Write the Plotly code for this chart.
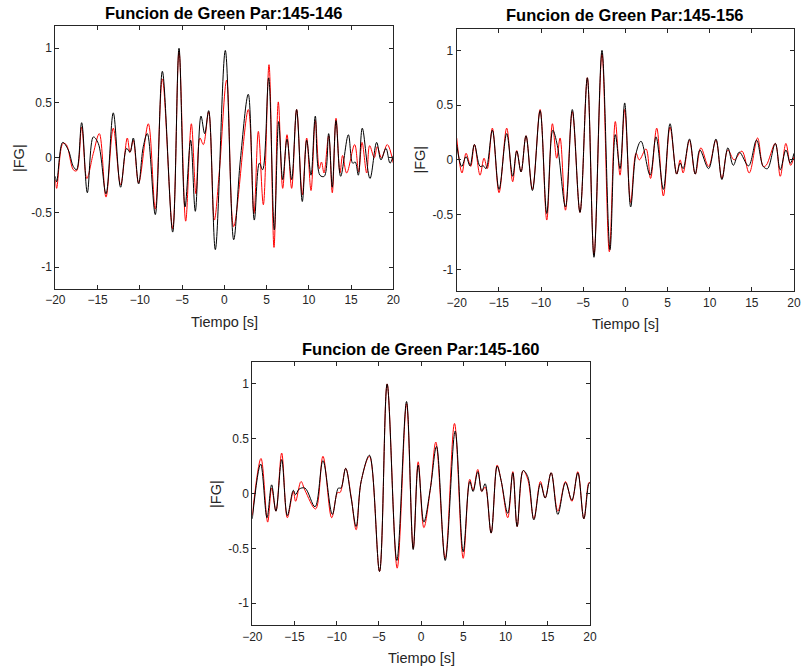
import plotly.graph_objects as go

# ---------------- data (extrema) ----------------
p1_black_t = [-20, -19.84, -19.13, -18.46, -17.87, -17.48, -16.88, -16.21, -15.5, -14.91, -14.0, -13.14, -12.27,
              -11.56, -11.16, -10.77, -10.14, -9.59, -9.11, -8.17, -7.33, -6.11, -5.36, -4.65, -3.98, -3.43,
              -2.76, -2.32, -1.85, -1.06, 0.12, 1.11, 1.9, 2.84, 3.55, 4.15, 4.54, 5.25, 5.92, 6.43, 6.91, 7.42,
              7.97, 8.56, 9.23, 9.75, 10.26, 10.77, 11.32, 11.83, 12.35, 12.78, 13.22, 13.77, 14.68, 15.19,
              15.5, 15.86, 16.33, 17.24, 18.03, 18.54, 19.13, 19.61, 20]
p1_black_v = [-0.17, -0.22, 0.14, 0.07, -0.08, -0.11, 0.32, -0.32, 0.19, 0.13, -0.33, 0.41, -0.27,
              0.085, 0.05, 0.18, -0.24, 0.10, 0.22, -0.52, 0.79, -0.68, 1.0, -0.45, 0.16, -0.49,
              0.38, 0.22, 0.43, -0.84, 0.98, -0.75, -0.02, 0.58, -0.57, -0.05, -0.11, 0.73, -0.66, 0.33, -0.2, 0.17,
              -0.2, 0.44, -0.4, 0.16, -0.16, 0.38, -0.16, -0.17, 0.22, -0.27, 0.34, -0.17, 0.21, -0.05,
              -0.04, -0.16, 0.27, -0.19, 0.14, -0.02, 0.085, -0.05, 0.02]
p1_red_t = [-20, -19.84, -19.1, -18.7, -17.87, -17.48, -16.88, -16.27, -15.5, -14.79, -14.0, -13.14, -12.27,
            -11.48, -11.16, -10.77, -10.14, -8.99, -8.17, -7.33, -6.11, -5.36, -4.57, -3.9, -3.35, -2.88,
            -2.48, -1.85, -1.18, -0.59, 0.28, 1.11, 2.84, 3.51, 4.03, 4.62, 5.29, 5.88, 6.39, 6.91, 7.42,
            7.97, 8.56, 9.23, 9.75, 10.26, 10.77, 11.24, 11.5, 11.8, 12.35, 12.78, 13.22, 13.69, 14.0, 14.48,
            15.43, 15.9, 16.3, 16.85, 17.2, 17.75, 18.1, 18.6, 19.29, 20]
p1_red_v = [-0.2, -0.28, 0.13, 0.12, -0.11, -0.12, 0.28, -0.19, 0.04, 0.22, -0.36, 0.27, -0.25,
            0.18, 0.05, 0.16, -0.23, 0.31, -0.47, 0.72, -0.65, 0.97, -0.58, 0.31, -0.33, 0.18,
            0.12, 0.42, -0.57, -0.13, 0.71, -0.63, 0.44, -0.51, 0.24, -0.43, 0.85, -0.82, 0.51, -0.28, 0.21,
            -0.28, 0.44, -0.34, 0.18, -0.30, 0.34, -0.1, -0.04, -0.14, 0.2, -0.32, 0.36, -0.14, 0.02, -0.14,
            0.12, -0.13, 0.14, -0.14, 0.11, 0.0, 0.1, 0.0, 0.12, -0.05]

p2_black_t = [-20, -19.41, -18.89, -18.42, -17.9, -17.23, -16.84, -16.52, -15.77, -14.98, -14.07, -13.36, -12.88,
              -12.37, -11.78, -11.02, -10.11, -9.32, -8.61, -8.06, -7.1, -6.29, -5.38, -4.51, -3.72, -2.77,
              -1.82, -1.19, -0.63, -0.08, 0.63, 1.27, 1.86, 2.93, 3.64, 4.51, 5.3, 6.09, 6.5, 6.85, 7.6,
              8.29, 8.84, 9.87, 10.74, 11.45, 12.16, 12.8, 13.51, 14.61, 15.56, 16.35, 16.86, 17.78, 18.37,
              19.04, 19.56, 20]
p2_black_v = [0.14, -0.06, 0.03, -0.055, 0.14, -0.06, -0.055, -0.08, 0.27, -0.27, 0.24, -0.15, 0.08,
              -0.11, 0.22, -0.28, 0.45, -0.49, 0.27, 0.13, -0.43, 0.46, -0.48, 0.75, -0.89, 1.0,
              -0.82, 0.23, -0.08, 0.52, -0.43, 0.06, 0.17, -0.14, 0.21, -0.27, 0.33, -0.13, -0.03, -0.08, 0.19,
              -0.13, 0.09, -0.08, 0.19, -0.18, 0.11, -0.05, 0.07, -0.055, 0.18, -0.06, -0.08, 0.15, -0.09,
              0.09, -0.03, 0.06]
p2_red_t = [-20, -19.37, -18.89, -18.34, -17.9, -17.23, -16.76, -16.37, -15.77, -14.98, -14.07, -13.36, -12.88,
            -12.37, -11.78, -11.02, -10.11, -9.32, -8.65, -8.14, -7.74, -7.1, -6.29, -5.38, -4.51, -3.72,
            -2.77, -1.9, -1.19, -0.63, -0.08, 0.63, 1.27, 1.66, 2.45, 2.99, 3.72, 4.51, 5.3, 6.09, 6.5,
            6.85, 7.6, 8.29, 8.96, 9.87, 10.74, 11.45, 12.16, 12.9, 13.82, 14.69, 15.68, 16.35, 16.7,
            17.78, 18.37, 19.04, 19.6, 20]
p2_red_v = [0.2, -0.12, 0.06, -0.06, 0.14, -0.14, 0.015, -0.08, 0.29, -0.3, 0.29, -0.2, 0.085,
            -0.11, 0.22, -0.27, 0.46, -0.55, 0.33, 0.015, 0.2, -0.46, 0.44, -0.48, 0.75, -0.87,
            0.97, -0.84, 0.35, -0.14, 0.46, -0.39, 0.06, 0.0, 0.1, -0.17, 0.29, -0.33, 0.3, -0.13, 0.0,
            -0.12, 0.18, -0.13, 0.11, -0.06, 0.18, -0.17, 0.09, 0.0, 0.08, -0.12, 0.2, -0.06, -0.05,
            0.15, -0.15, 0.15, -0.05, 0.03]

p3_black_t = [-20, -19.01, -18.26, -17.71, -17.2, -16.52, -15.85, -15.14, -14.87, -14.47, -13.76, -12.57,
              -11.63, -10.52, -9.81, -9.5, -8.94, -8.29, -7.7, -7.11, -6.12, -4.93, -4.03, -2.88, -1.73,
              -0.94, -0.35, 0.32, 1.1, 1.82, 2.85, 4.03, 4.98, 5.76, 6.15, 6.71, 7.18, 7.58, 8.29, 9.0,
              9.47, 10.26, 10.86, 11.37, 12.08, 12.63, 13.35, 14.13, 14.69, 15.4, 16.19, 17.1, 17.85,
              18.56, 19.27, 19.86, 20]
p3_black_v = [-0.23, 0.27, -0.22, 0.08, -0.16, 0.31, -0.2, 0.03, -0.01, 0.04, 0.05, -0.12,
              0.3, -0.19, 0.05, 0.05, 0.23, -0.04, -0.3, 0.11, 0.35, -0.71, 1.0, -0.61, 0.84,
              -0.51, 0.26, -0.26, 0.05, 0.43, -0.61, 0.57, -0.53, 0.11, 0.02, 0.2, 0.02, 0.09, -0.36, 0.25,
              0.12, -0.18, 0.19, -0.3, 0.21, 0.155, -0.24, 0.09, -0.04, 0.19, -0.19, 0.1, -0.06,
              0.19, -0.23, 0.09, 0.1]
p3_red_t = [-20, -18.97, -18.18, -17.71, -17.2, -16.52, -15.85, -15.14, -14.87, -14.23, -13.76, -12.5,
            -11.63, -10.6, -9.89, -9.6, -8.94, -8.29, -7.7, -7.11, -6.12, -4.93, -4.03, -2.84, -1.73,
            -0.94, -0.35, 0.32, 1.1, 1.74, 2.85, 3.95, 4.98, 5.76, 6.15, 6.71, 7.18, 7.58, 8.29, 9.0,
            9.47, 10.26, 10.86, 11.37, 12.08, 12.63, 13.35, 14.13, 14.69, 15.4, 16.19, 17.1, 17.85,
            18.56, 19.27, 19.86, 20]
p3_red_v = [-0.2, 0.32, -0.26, 0.05, -0.16, 0.37, -0.22, 0.02, -0.07, 0.11, 0.03, -0.14,
            0.34, -0.22, 0.01, 0.01, 0.23, -0.03, -0.33, 0.11, 0.34, -0.71, 1.0, -0.68, 0.82,
            -0.5, 0.29, -0.31, 0.05, 0.47, -0.59, 0.64, -0.59, 0.13, 0.03, 0.22, 0.02, 0.06, -0.36, 0.26,
            0.12, -0.22, 0.2, -0.3, 0.21, 0.13, -0.23, 0.11, -0.04, 0.19, -0.16, 0.11, -0.07,
            0.2, -0.23, 0.1, 0.1]

titles = ["Funcion de Green Par:145-146", "Funcion de Green Par:145-156", "Funcion de Green Par:145-160"]
x_ticks = [-20, -15, -10, -5, 0, 5, 10, 15, 20]
y_ticks = [-1, -0.5, 0, 0.5, 1]
y_tick_text = ["-1", "-0.5", "0", "0.5", "1"]
x_label = "Tiempo [s]"
y_label = "|FG|"

# ---------------- layout geometry ----------------
W, H = 801, 668
panels = [  # left, right, top, bottom in pixels
    (55.3, 393.3, 26.4, 289.0),
    (456.7, 794.0, 28.5, 291.2),
    (252.3, 590.0, 362.0, 625.2),
]

fig = go.Figure()
series = [(p1_red_t, p1_red_v, p1_black_t, p1_black_v),
          (p2_red_t, p2_red_v, p2_black_t, p2_black_v),
          (p3_red_t, p3_red_v, p3_black_t, p3_black_v)]

axcol = "#262626"
font_family = "Liberation Sans, Arial, sans-serif"
layout = {}
annotations = []
for i, ((l, r, t, b), (rt, rv, bt, bv)) in enumerate(zip(panels, series)):
    n = "" if i == 0 else str(i + 1)
    xa, ya = "x" + n, "y" + n
    fig.add_trace(go.Scatter(x=rt, y=rv, mode="lines", line=dict(color="#ff0000", width=1, shape="spline", smoothing=1.0),
                             xaxis=xa, yaxis=ya, showlegend=False, hoverinfo="skip"))
    fig.add_trace(go.Scatter(x=bt, y=bv, mode="lines", line=dict(color="#000000", width=1, shape="spline", smoothing=1.0),
                             xaxis=xa, yaxis=ya, showlegend=False, hoverinfo="skip"))
    common = dict(showline=True, linecolor=axcol, linewidth=1, mirror="ticks", ticks="inside", ticklen=4,
                  tickcolor=axcol, tickwidth=1, showgrid=False, zeroline=False, automargin=False,
                  tickfont=dict(family=font_family, size=12, color=axcol))
    layout["xaxis" + n] = dict(domain=[l / W, r / W], range=[-20, 20], tickvals=x_ticks,
                                anchor=ya, **common)
    layout["yaxis" + n] = dict(domain=[1 - b / H, 1 - t / H], range=[-1.2, 1.2], tickvals=y_ticks,
                                ticktext=y_tick_text, anchor=xa, **common)
    cx = (l + r) / 2 / W
    annotations.append(dict(text="<b>%s</b>" % titles[i], x=cx, y=1 - (t - 13) / H, xref="paper", yref="paper",
                            showarrow=False, xanchor="center", yanchor="middle",
                            font=dict(family=font_family, size=16.5, color="#000000")))
    annotations.append(dict(text=x_label, x=cx, y=1 - (b + 33) / H, xref="paper", yref="paper",
                            showarrow=False, xanchor="center", yanchor="middle",
                            font=dict(family=font_family, size=14.5, color=axcol)))
    annotations.append(dict(text=y_label, x=(l - 37) / W, y=1 - ((t + b) / 2) / H, xref="paper", yref="paper",
                            showarrow=False, xanchor="center", yanchor="middle", textangle=-90,
                            font=dict(family=font_family, size=14.5, color=axcol)))

fig.update_layout(width=W, height=H, margin=dict(l=0, r=0, t=0, b=0), paper_bgcolor="white",
                  plot_bgcolor="white", annotations=annotations, template="none", **layout)
fig.write_html("out.html")
